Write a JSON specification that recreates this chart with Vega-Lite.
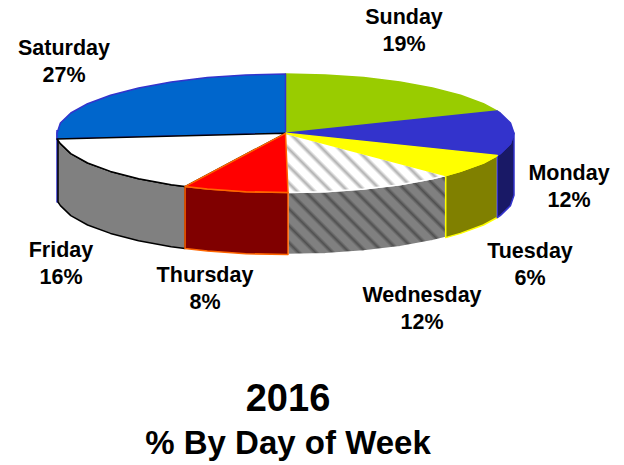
{"$schema":"https://vega.github.io/schema/vega-lite/v6.json","width":624,"height":465,"padding":0,"autosize":"none","background":"white","view":{"stroke":null},
"title":{"text":"2016","subtitle":"% By Day of Week","orient":"bottom","anchor":"middle","offset":-84,"dx":-24,"font":"Liberation Sans","fontSize":38,"fontWeight":"bold","color":"black","subtitleFont":"Liberation Sans","subtitleFontSize":33,"subtitleFontWeight":"bold","subtitleColor":"black","subtitlePadding":9},
"datasets":{"outline":[
{"part":"1wall Saturday","n":0,"px":57,"py":130},{"part":"1wall Saturday","n":1,"px":57,"py":202},{"part":"1wall Saturday","n":2,"px":59,"py":202},{"part":"1wall Saturday","n":3,"px":59,"py":130},
{"part":"2wall Friday","n":0,"px":58,"py":139},{"part":"2wall Friday","n":1,"px":60.4,"py":143.6},{"part":"2wall Friday","n":2,"px":70.8,"py":153.6},{"part":"2wall Friday","n":3,"px":87.6,"py":163},{"part":"2wall Friday","n":4,"px":110.5,"py":171.4},{"part":"2wall Friday","n":5,"px":138.6,"py":178.7},{"part":"2wall Friday","n":6,"px":171.2,"py":184.7},{"part":"2wall Friday","n":7,"px":185,"py":186.6},{"part":"2wall Friday","n":8,"px":185,"py":248.6},{"part":"2wall Friday","n":9,"px":171.2,"py":246.7},{"part":"2wall Friday","n":10,"px":138.6,"py":240.7},{"part":"2wall Friday","n":11,"px":110.5,"py":233.4},{"part":"2wall Friday","n":12,"px":87.6,"py":225},{"part":"2wall Friday","n":13,"px":70.8,"py":215.6},{"part":"2wall Friday","n":14,"px":60.4,"py":205.6},{"part":"2wall Friday","n":15,"px":58,"py":202},{"part":"2wall Friday","n":16,"px":58,"py":139},
{"part":"3wall Thursday","n":0,"px":185,"py":186.6},{"part":"3wall Thursday","n":1,"px":207.4,"py":189},{"part":"3wall Thursday","n":2,"px":245.8,"py":191.7},{"part":"3wall Thursday","n":3,"px":288,"py":192.6},{"part":"3wall Thursday","n":4,"px":288,"py":254.6},{"part":"3wall Thursday","n":5,"px":245.8,"py":253.7},{"part":"3wall Thursday","n":6,"px":207.4,"py":251},{"part":"3wall Thursday","n":7,"px":185,"py":248.6},{"part":"3wall Thursday","n":8,"px":185,"py":186.6},
{"part":"5wall Tuesday","n":0,"px":445.7,"py":175.6},{"part":"5wall Tuesday","n":1,"px":460.5,"py":171.4},{"part":"5wall Tuesday","n":2,"px":483.4,"py":163},{"part":"5wall Tuesday","n":3,"px":497.3,"py":155.5},{"part":"5wall Tuesday","n":4,"px":497.3,"py":217.5},{"part":"5wall Tuesday","n":5,"px":483.4,"py":225},{"part":"5wall Tuesday","n":6,"px":460.5,"py":233.4},{"part":"5wall Tuesday","n":7,"px":445.7,"py":237.6},{"part":"5wall Tuesday","n":8,"px":445.7,"py":175.6},
{"part":"6wall Monday","n":0,"px":497.3,"py":155.5},{"part":"6wall Monday","n":1,"px":500.2,"py":153.6},{"part":"6wall Monday","n":2,"px":510.5,"py":143.6},{"part":"6wall Monday","n":3,"px":514,"py":133.3},{"part":"6wall Monday","n":4,"px":514,"py":195.3},{"part":"6wall Monday","n":5,"px":510.5,"py":205.6},{"part":"6wall Monday","n":6,"px":500.2,"py":215.6},{"part":"6wall Monday","n":7,"px":497.3,"py":217.5},{"part":"6wall Monday","n":8,"px":497.3,"py":155.5},
{"part":"7top Sunday","n":0,"px":285.5,"py":133.3},{"part":"7top Sunday","n":1,"px":285.5,"py":74},{"part":"7top Sunday","n":2,"px":325.2,"py":74.9},{"part":"7top Sunday","n":3,"px":363.6,"py":77.6},{"part":"7top Sunday","n":4,"px":399.8,"py":82},{"part":"7top Sunday","n":5,"px":432.4,"py":87.9},{"part":"7top Sunday","n":6,"px":460.5,"py":95.2},{"part":"7top Sunday","n":7,"px":483.4,"py":103.7},{"part":"7top Sunday","n":8,"px":497.3,"py":111.1},{"part":"7top Sunday","n":9,"px":285.5,"py":133.3},
{"part":"8top Monday","n":0,"px":285.5,"py":133.3},{"part":"8top Monday","n":1,"px":497.3,"py":111.1},{"part":"8top Monday","n":2,"px":500.2,"py":113},{"part":"8top Monday","n":3,"px":510.5,"py":123},{"part":"8top Monday","n":4,"px":514,"py":133.3},{"part":"8top Monday","n":5,"px":510.5,"py":143.6},{"part":"8top Monday","n":6,"px":500.2,"py":153.6},{"part":"8top Monday","n":7,"px":497.3,"py":155.5},{"part":"8top Monday","n":8,"px":285.5,"py":133.3},
{"part":"9top Saturday","n":0,"px":285.5,"py":133.3},{"part":"9top Saturday","n":1,"px":57,"py":139},{"part":"9top Saturday","n":2,"px":57,"py":133.3},{"part":"9top Saturday","n":3,"px":60.4,"py":123},{"part":"9top Saturday","n":4,"px":70.8,"py":113},{"part":"9top Saturday","n":5,"px":87.6,"py":103.7},{"part":"9top Saturday","n":6,"px":110.5,"py":95.2},{"part":"9top Saturday","n":7,"px":138.6,"py":87.9},{"part":"9top Saturday","n":8,"px":171.2,"py":82},{"part":"9top Saturday","n":9,"px":207.4,"py":77.6},{"part":"9top Saturday","n":10,"px":245.8,"py":74.9},{"part":"9top Saturday","n":11,"px":285.5,"py":74},{"part":"9top Saturday","n":12,"px":285.5,"py":133.3},
{"part":"atop Friday","n":0,"px":285.5,"py":133.3},{"part":"atop Friday","n":1,"px":185,"py":186.6},{"part":"atop Friday","n":2,"px":171.2,"py":184.7},{"part":"atop Friday","n":3,"px":138.6,"py":178.7},{"part":"atop Friday","n":4,"px":110.5,"py":171.4},{"part":"atop Friday","n":5,"px":87.6,"py":163},{"part":"atop Friday","n":6,"px":70.8,"py":153.6},{"part":"atop Friday","n":7,"px":60.4,"py":143.6},{"part":"atop Friday","n":8,"px":57,"py":139},{"part":"atop Friday","n":9,"px":285.5,"py":133.3},
{"part":"btop Tuesday","n":0,"px":285.5,"py":133.3},{"part":"btop Tuesday","n":1,"px":497.3,"py":155.5},{"part":"btop Tuesday","n":2,"px":483.4,"py":163},{"part":"btop Tuesday","n":3,"px":460.5,"py":171.4},{"part":"btop Tuesday","n":4,"px":445.7,"py":175.6},{"part":"btop Tuesday","n":5,"px":285.5,"py":133.3},
{"part":"ctop Thursday","n":0,"px":285.5,"py":133.3},{"part":"ctop Thursday","n":1,"px":288,"py":192.6},{"part":"ctop Thursday","n":2,"px":245.8,"py":191.7},{"part":"ctop Thursday","n":3,"px":207.4,"py":189},{"part":"ctop Thursday","n":4,"px":185,"py":186.6},{"part":"ctop Thursday","n":5,"px":285.5,"py":133.3}
],
"hatchWall":[
{"part":"wall Wednesday","n":0,"px":288,"py":192.6},{"part":"wall Wednesday","n":1,"px":325.2,"py":191.7},{"part":"wall Wednesday","n":2,"px":363.6,"py":189},{"part":"wall Wednesday","n":3,"px":399.8,"py":184.7},{"part":"wall Wednesday","n":4,"px":432.4,"py":178.7},{"part":"wall Wednesday","n":5,"px":445.7,"py":175.6},{"part":"wall Wednesday","n":6,"px":445.7,"py":237.6},{"part":"wall Wednesday","n":7,"px":432.4,"py":240.7},{"part":"wall Wednesday","n":8,"px":399.8,"py":246.7},{"part":"wall Wednesday","n":9,"px":363.6,"py":251},{"part":"wall Wednesday","n":10,"px":325.2,"py":253.7},{"part":"wall Wednesday","n":11,"px":288,"py":254.6},{"part":"wall Wednesday","n":12,"px":288,"py":192.6}
],
"hatchTop":[
{"part":"top Wednesday","n":0,"px":285.5,"py":133.3},{"part":"top Wednesday","n":1,"px":445.7,"py":175.6},{"part":"top Wednesday","n":2,"px":432.4,"py":178.7},{"part":"top Wednesday","n":3,"px":399.8,"py":184.7},{"part":"top Wednesday","n":4,"px":363.6,"py":189},{"part":"top Wednesday","n":5,"px":325.2,"py":191.7},{"part":"top Wednesday","n":6,"px":288,"py":192.6},{"part":"top Wednesday","n":7,"px":285.5,"py":133.3}
],
"labels":[
{"day":"Sunday","share":19,"label":"Sunday\n19%","lx":404,"ly":18},
{"day":"Monday","share":12,"label":"Monday\n12%","lx":569,"ly":174},
{"day":"Tuesday","share":6,"label":"Tuesday\n6%","lx":530,"ly":252},
{"day":"Wednesday","share":12,"label":"Wednesday\n12%","lx":422,"ly":296},
{"day":"Thursday","share":8,"label":"Thursday\n8%","lx":205,"ly":276},
{"day":"Friday","share":16,"label":"Friday\n16%","lx":61,"ly":251},
{"day":"Saturday","share":27,"label":"Saturday\n27%","lx":64,"ly":49}
]},
"layer":[
{"data":{"name":"hatchWall"},"mark":{"type":"line","strokeWidth":1.5,"stroke":"#ffffff","fill":{"gradient":"linear","x1":0,"y1":1,"x2":1.2,"y2":0.4,"stops":[{"offset":0,"color":"#808080"},{"offset":0.036,"color":"#808080"},{"offset":0.054,"color":"#505050"},{"offset":0.071,"color":"#808080"},{"offset":0.107,"color":"#808080"},{"offset":0.125,"color":"#505050"},{"offset":0.143,"color":"#808080"},{"offset":0.179,"color":"#808080"},{"offset":0.196,"color":"#505050"},{"offset":0.214,"color":"#808080"},{"offset":0.25,"color":"#808080"},{"offset":0.268,"color":"#505050"},{"offset":0.286,"color":"#808080"},{"offset":0.321,"color":"#808080"},{"offset":0.339,"color":"#505050"},{"offset":0.357,"color":"#808080"},{"offset":0.393,"color":"#808080"},{"offset":0.411,"color":"#505050"},{"offset":0.428,"color":"#808080"},{"offset":0.464,"color":"#808080"},{"offset":0.482,"color":"#505050"},{"offset":0.5,"color":"#808080"},{"offset":0.536,"color":"#808080"},{"offset":0.553,"color":"#505050"},{"offset":0.571,"color":"#808080"},{"offset":0.607,"color":"#808080"},{"offset":0.625,"color":"#505050"},{"offset":0.643,"color":"#808080"},{"offset":0.679,"color":"#808080"},{"offset":0.696,"color":"#505050"},{"offset":0.714,"color":"#808080"},{"offset":0.75,"color":"#808080"},{"offset":0.768,"color":"#505050"},{"offset":0.786,"color":"#808080"},{"offset":0.821,"color":"#808080"},{"offset":0.839,"color":"#505050"},{"offset":0.857,"color":"#808080"},{"offset":0.893,"color":"#808080"},{"offset":0.911,"color":"#505050"},{"offset":0.928,"color":"#808080"},{"offset":0.964,"color":"#808080"},{"offset":0.982,"color":"#505050"},{"offset":1,"color":"#808080"}]}},
"encoding":{"x":{"field":"px","type":"quantitative","scale":{"domain":[0,624]},"axis":null},"y":{"field":"py","type":"quantitative","scale":{"domain":[465,0]},"axis":null},"order":{"field":"n","type":"quantitative"}}},
{"data":{"name":"hatchTop"},"mark":{"type":"line","strokeWidth":1.5,"stroke":"#ffffff","fill":{"gradient":"linear","x1":0,"y1":1,"x2":1.205,"y2":0.556,"stops":[{"offset":0,"color":"#ffffff"},{"offset":0.039,"color":"#ffffff"},{"offset":0.058,"color":"#b0b0b0"},{"offset":0.077,"color":"#ffffff"},{"offset":0.116,"color":"#ffffff"},{"offset":0.135,"color":"#b0b0b0"},{"offset":0.155,"color":"#ffffff"},{"offset":0.194,"color":"#ffffff"},{"offset":0.213,"color":"#b0b0b0"},{"offset":0.232,"color":"#ffffff"},{"offset":0.271,"color":"#ffffff"},{"offset":0.29,"color":"#b0b0b0"},{"offset":0.31,"color":"#ffffff"},{"offset":0.348,"color":"#ffffff"},{"offset":0.368,"color":"#b0b0b0"},{"offset":0.387,"color":"#ffffff"},{"offset":0.426,"color":"#ffffff"},{"offset":0.445,"color":"#b0b0b0"},{"offset":0.464,"color":"#ffffff"},{"offset":0.503,"color":"#ffffff"},{"offset":0.522,"color":"#b0b0b0"},{"offset":0.542,"color":"#ffffff"},{"offset":0.581,"color":"#ffffff"},{"offset":0.6,"color":"#b0b0b0"},{"offset":0.619,"color":"#ffffff"},{"offset":0.658,"color":"#ffffff"},{"offset":0.677,"color":"#b0b0b0"},{"offset":0.697,"color":"#ffffff"},{"offset":0.735,"color":"#ffffff"},{"offset":0.755,"color":"#b0b0b0"},{"offset":0.774,"color":"#ffffff"},{"offset":0.813,"color":"#ffffff"},{"offset":0.832,"color":"#b0b0b0"},{"offset":0.851,"color":"#ffffff"},{"offset":0.89,"color":"#ffffff"},{"offset":0.91,"color":"#b0b0b0"},{"offset":0.929,"color":"#ffffff"},{"offset":0.968,"color":"#ffffff"},{"offset":0.987,"color":"#b0b0b0"},{"offset":1,"color":"#ffffff"}]}},
"encoding":{"x":{"field":"px","type":"quantitative","scale":{"domain":[0,624]},"axis":null},"y":{"field":"py","type":"quantitative","scale":{"domain":[465,0]},"axis":null},"order":{"field":"n","type":"quantitative"}}},
{"data":{"name":"outline"},"mark":{"type":"line","strokeWidth":1.5,"strokeJoin":"round"},
"encoding":{"x":{"field":"px","type":"quantitative","scale":{"domain":[0,624]},"axis":null},"y":{"field":"py","type":"quantitative","scale":{"domain":[465,0]},"axis":null},"order":{"field":"n","type":"quantitative"},"detail":{"field":"part"},
"fill":{"field":"part","type":"nominal","legend":null,"sort":null,"scale":{"domain":["1wall Saturday","2wall Friday","3wall Thursday","5wall Tuesday","6wall Monday","7top Sunday","8top Monday","9top Saturday","atop Friday","btop Tuesday","ctop Thursday"],"range":["#3333cc","#808080","#800000","#808000","#191966","#99cc00","#3333cc","#0066cc","#ffffff","#ffff00","#ff0000"]}},
"stroke":{"field":"part","type":"nominal","legend":null,"sort":null,"scale":{"domain":["1wall Saturday","2wall Friday","3wall Thursday","5wall Tuesday","6wall Monday","7top Sunday","8top Monday","9top Saturday","atop Friday","btop Tuesday","ctop Thursday"],"range":["#3333cc","#000000","#ff6600","#ffff00","#3333cc","#99cc00","#3333cc","#3333cc","#000000","#ffff00","#ff6600"]}}}},
{"data":{"name":"labels"},"mark":{"type":"text","font":"Liberation Sans","fontWeight":"bold","fontSize":21.5,"lineBreak":"\n","lineHeight":27,"align":"center","baseline":"middle","color":"black"},
"encoding":{"x":{"field":"lx","type":"quantitative","scale":{"domain":[0,624]},"axis":null},"y":{"field":"ly","type":"quantitative","scale":{"domain":[465,0]},"axis":null},"text":{"field":"label"}}}
]}
